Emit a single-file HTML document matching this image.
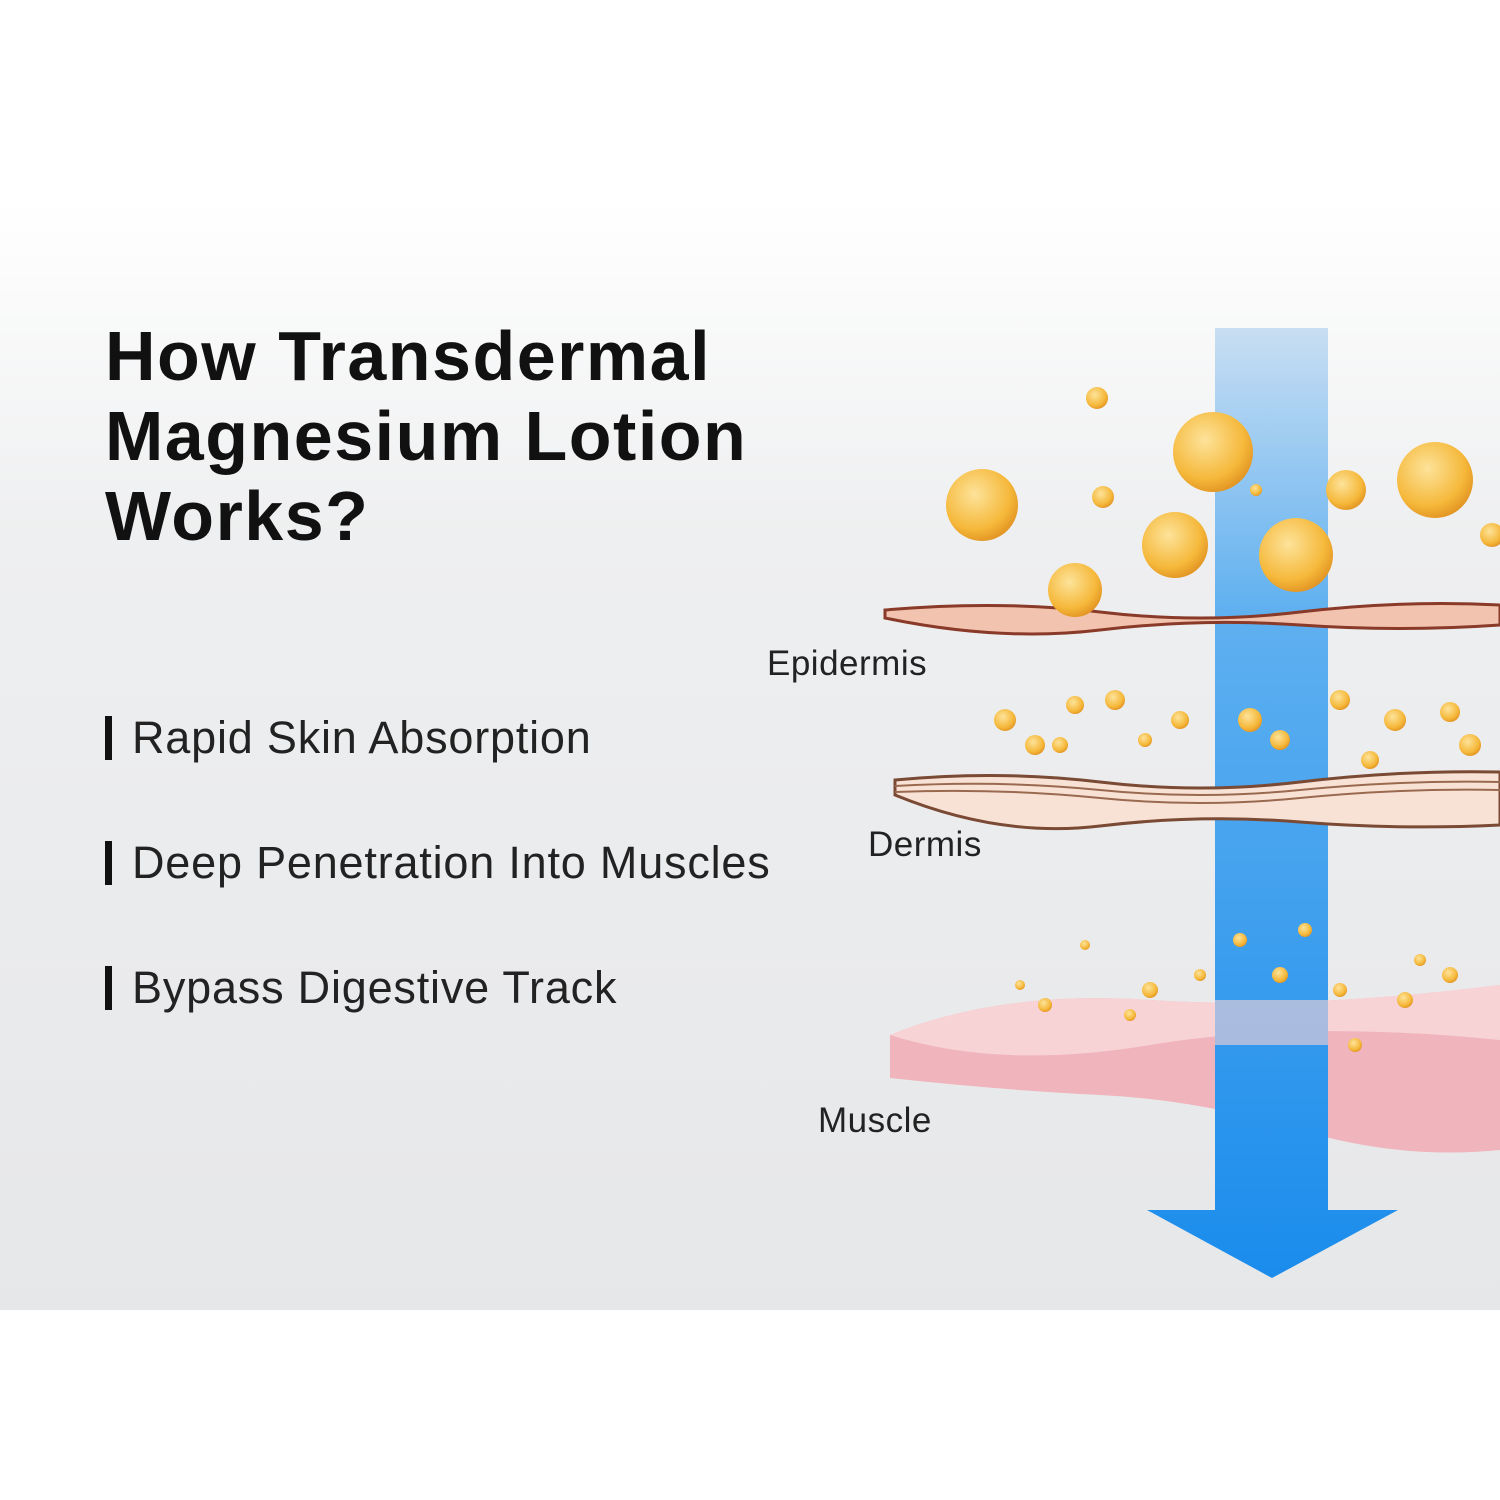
<!DOCTYPE html>
<html><head><meta charset="utf-8"><style>
body{margin:0;width:1500px;height:1500px;position:relative;overflow:hidden;background:#fff;font-family:"Liberation Sans",sans-serif}
.bg{position:absolute;left:0;top:200px;width:1500px;height:1110px;background:linear-gradient(#ffffff 0%,#eeeff0 30%,#e6e7e9 100%)}
h1{position:absolute;left:105px;top:316px;margin:0;font-size:70px;line-height:80px;font-weight:bold;color:#111;letter-spacing:1.5px}
.b{position:absolute;left:105px;font-size:45px;color:#222;border-left:7px solid #111;padding-left:20px;line-height:44px;letter-spacing:0.8px}
.l{position:absolute;font-size:35px;color:#222;letter-spacing:0.5px}
</style></head><body>
<div class="bg"></div>
<h1>How Transdermal<br>Magnesium Lotion<br>Works?</h1>
<div class="b" style="top:716px">Rapid Skin Absorption</div>
<div class="b" style="top:841px">Deep Penetration Into Muscles</div>
<div class="b" style="top:966px">Bypass Digestive Track</div>
<div class="l" style="left:767px;top:644px">Epidermis</div>
<div class="l" style="left:868px;top:825px">Dermis</div>
<div class="l" style="left:818px;top:1101px">Muscle</div>
<svg width="1500" height="1500" style="position:absolute;left:0;top:0">
<defs>
<linearGradient id="ar" x1="0" y1="0" x2="0" y2="1"><stop offset="0" stop-color="#c8def2"/><stop offset="0.3" stop-color="#5fb0f0"/><stop offset="1" stop-color="#1a8cec"/></linearGradient>
<radialGradient id="ba" cx="0.4" cy="0.35" r="0.7"><stop offset="0" stop-color="#fde39a"/><stop offset="0.7" stop-color="#f5b83a"/><stop offset="1" stop-color="#e09020"/></radialGradient>
</defs>
<path d="M890,1035 Q1000,990 1150,1000 T1500,985 L1500,1150 Q1400,1160 1300,1130 T1100,1095 T890,1078 Z" fill="#f0b4bc"/>
<path d="M890,1035 Q1000,990 1150,1000 T1500,985 L1500,1040 Q1300,1020 1150,1045 T890,1035 Z" fill="#f8d3d6"/>
<polygon points="1215,328 1328,328 1328,1210 1398,1210 1272,1278 1147,1210 1215,1210" fill="url(#ar)"/>
<rect x="1215" y="1000" width="113" height="45" fill="#f8d3d6" opacity="0.6"/>
<path d="M885,610 Q1000,600 1100,612 T1300,612 T1500,605 L1500,625 Q1400,632 1300,625 T1100,630 T885,618 Z" fill="#f2c4b0" stroke="#8a3a28" stroke-width="3"/>
<path d="M895,780 Q1000,770 1100,782 T1300,782 T1500,772 L1500,825 Q1400,830 1300,822 T1100,826 T895,795 Z" fill="#f8e2d6" stroke="#7a4a34" stroke-width="3"/>
<path d="M895,792 Q1000,788 1100,798 T1300,798 T1500,790 M895,786 Q1000,780 1100,790 T1300,790 T1500,782" fill="none" stroke="#9a6a50" stroke-width="2"/>
<g fill="url(#ba)">
<circle cx="982" cy="505" r="36"/><circle cx="1213" cy="452" r="40"/><circle cx="1175" cy="545" r="33"/><circle cx="1296" cy="555" r="37"/><circle cx="1435" cy="480" r="38"/><circle cx="1346" cy="490" r="20"/><circle cx="1075" cy="590" r="27"/><circle cx="1097" cy="398" r="11"/><circle cx="1103" cy="497" r="11"/><circle cx="1256" cy="490" r="6"/><circle cx="1492" cy="535" r="12"/>
<circle cx="1005" cy="720" r="11"/><circle cx="1035" cy="745" r="10"/><circle cx="1075" cy="705" r="9"/><circle cx="1115" cy="700" r="10"/><circle cx="1180" cy="720" r="9"/><circle cx="1250" cy="720" r="12"/><circle cx="1280" cy="740" r="10"/><circle cx="1340" cy="700" r="10"/><circle cx="1395" cy="720" r="11"/><circle cx="1450" cy="712" r="10"/><circle cx="1470" cy="745" r="11"/><circle cx="1370" cy="760" r="9"/><circle cx="1060" cy="745" r="8"/><circle cx="1145" cy="740" r="7"/>
<circle cx="1240" cy="940" r="7"/><circle cx="1305" cy="930" r="7"/><circle cx="1280" cy="975" r="8"/><circle cx="1150" cy="990" r="8"/><circle cx="1200" cy="975" r="6"/><circle cx="1340" cy="990" r="7"/><circle cx="1405" cy="1000" r="8"/><circle cx="1450" cy="975" r="8"/><circle cx="1045" cy="1005" r="7"/><circle cx="1130" cy="1015" r="6"/><circle cx="1355" cy="1045" r="7"/><circle cx="1085" cy="945" r="5"/><circle cx="1020" cy="985" r="5"/><circle cx="1420" cy="960" r="6"/>
</g>
</svg>
</body></html>
